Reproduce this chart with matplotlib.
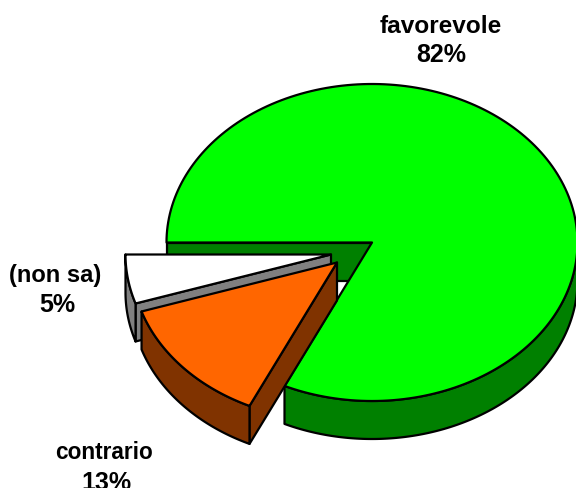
import numpy as np
import matplotlib
matplotlib.use("Agg")
import matplotlib.pyplot as plt
from matplotlib.patches import Polygon

LABELS = ["favorevole", "contrario", "(non sa)"]
SHARES = [82, 13, 5]

TOP_COLORS = ["#00ff00", "#ff6600", "#ffffff"]
SIDE_COLORS = ["#008000", "#803300", "#808080"]

# pie geometry, in image pixels
CX, CY = 372.0, 243.5
RX, RY = 205.5, 158.5
DEPTH = 38.0
START = 180.0
OFFSETS = [(0, 0), (-35, 20), (-41, 12)]
# label x, label baseline, percent x, percent baseline
LABEL_POS = [(441, 33, 441.5, 62), (104, 459, 106, 490), (55, 282, 57.5, 312)]
LABEL_SIZE = [17.6, 16.3, 17.0]
PCT_SIZE = 18.0
LW = 1.6


def arc(center, a0, a1, n=200):
    """Points on the pie rim between two angles (degrees)."""
    t = np.radians(np.linspace(a0, a1, n))
    return np.column_stack([center[0] + RX * np.cos(t), center[1] - RY * np.sin(t)])


def add_poly(ax, pts, color):
    ax.add_patch(Polygon(pts, closed=True, facecolor=color, edgecolor="black",
                         linewidth=LW, joinstyle="round"))


def draw_slice(ax, a0, a1, offset, top, side):
    """Draw one slice going clockwise from a0 down to a1."""
    apex = np.array([CX + offset[0], CY + offset[1]])
    down = np.array([0, DEPTH])

    # the cut face at the start of each slice looks towards the viewer
    edge = arc(apex, a0, a0, 1)[0]
    add_poly(ax, [apex, edge, edge + down, apex + down], side)

    # rim is only seen on the lower half of the ellipse
    rim = arc(apex, max(a1, -180), min(a0, 0))
    add_poly(ax, np.vstack([rim, rim[::-1] + down]), side)

    add_poly(ax, np.vstack([apex, arc(apex, a0, a1)]), top)


def main():
    fig = plt.figure(figsize=(5.76, 4.89), dpi=100)
    ax = fig.add_axes([0, 0, 1, 1])
    ax.set_xlim(0, 576)
    ax.set_ylim(489, 0)
    ax.axis("off")

    edges = START - np.cumsum([0] + SHARES) * 3.6

    # green first, then the white slice, which goes under the orange one
    for i in (0, 2, 1):
        draw_slice(ax, edges[i], edges[i + 1], OFFSETS[i], TOP_COLORS[i], SIDE_COLORS[i])

    for label, share, (x1, y1, x2, y2), size in zip(LABELS, SHARES, LABEL_POS, LABEL_SIZE):
        ax.text(x1, y1, label, ha="center", va="baseline", fontsize=size,
                fontweight="bold", family="Liberation Sans")
        ax.text(x2, y2, f"{share}%", ha="center", va="baseline", fontsize=PCT_SIZE,
                fontweight="bold", family="Liberation Sans")

    fig.savefig("out.png", dpi=100)
    plt.close(fig)


if __name__ == "__main__":
    main()
